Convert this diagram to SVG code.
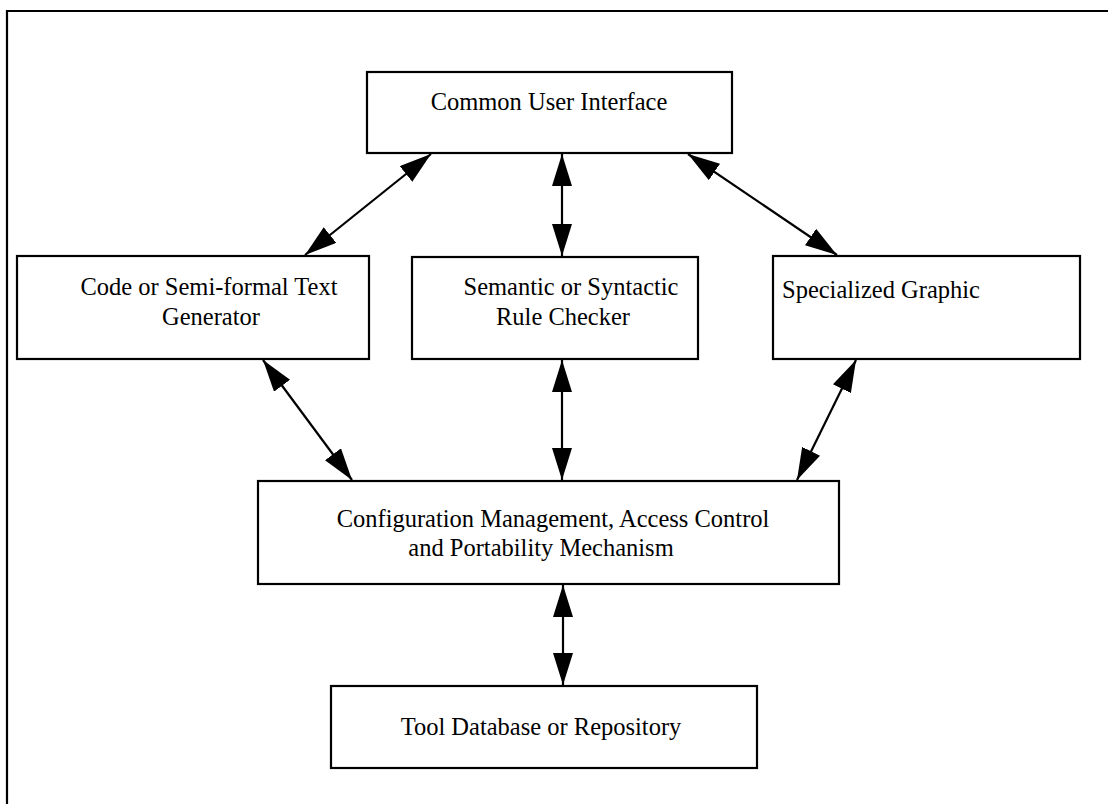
<svg xmlns="http://www.w3.org/2000/svg" width="1108" height="804" viewBox="0 0 1108 804">
  <style>
    .box { fill: #fff; stroke: #000; stroke-width: 2.2; }
    .lbl { font-family: "Liberation Serif", "Times New Roman", serif; font-size: 24.5px; fill: #000; text-anchor: middle; }
    .lbl.left { text-anchor: start; }
    .link { stroke: #000; stroke-width: 2.2; fill: none; marker-start: url(#head); marker-end: url(#head); }
  </style>
  <defs>
    <marker id="head" viewBox="0 0 32 20" refX="32" refY="10" markerWidth="32" markerHeight="20" markerUnits="userSpaceOnUse" orient="auto-start-reverse">
      <path d="M0,0 L32,10 L0,20 Z" fill="#000"/>
    </marker>
  </defs>
  <rect width="1108" height="804" fill="#fff"/>

  <!-- frame (open on the right and bottom) -->
  <path d="M7,804 V11 H1108" fill="none" stroke="#000" stroke-width="2.2"/>

  <g id="connectors">
    <line class="link" x1="431" y1="154" x2="305" y2="255"/>
    <line class="link" x1="562" y1="154" x2="562" y2="256"/>
    <line class="link" x1="688" y1="154" x2="837" y2="255"/>
    <line class="link" x1="263" y1="360" x2="352" y2="480"/>
    <line class="link" x1="562" y1="360" x2="562" y2="480"/>
    <line class="link" x1="856" y1="360" x2="797" y2="480"/>
    <line class="link" x1="563" y1="585" x2="563" y2="685"/>
  </g>

  <g id="common-user-interface">
    <rect class="box" x="367" y="72" width="365" height="81"/>
    <text class="lbl" x="549" y="110">Common User Interface</text>
  </g>

  <g id="text-generator">
    <rect class="box" x="17" y="256" width="352" height="103"/>
    <text class="lbl" x="209" y="295">Code or Semi-formal Text</text>
    <text class="lbl" x="211" y="325">Generator</text>
  </g>

  <g id="rule-checker">
    <rect class="box" x="412" y="257" width="286" height="102"/>
    <text class="lbl" x="571" y="295">Semantic or Syntactic</text>
    <text class="lbl" x="563" y="325">Rule Checker</text>
  </g>

  <g id="specialized-graphic">
    <rect class="box" x="773" y="256" width="307" height="103"/>
    <text class="lbl left" x="782" y="298">Specialized Graphic</text>
  </g>

  <g id="configuration-management">
    <rect class="box" x="258" y="481" width="581" height="103"/>
    <text class="lbl" x="553" y="527">Configuration Management, Access Control</text>
    <text class="lbl" x="541" y="556">and Portability Mechanism</text>
  </g>

  <g id="tool-database">
    <rect class="box" x="331" y="686" width="426" height="82"/>
    <text class="lbl" x="541" y="735">Tool Database or Repository</text>
  </g>
</svg>
